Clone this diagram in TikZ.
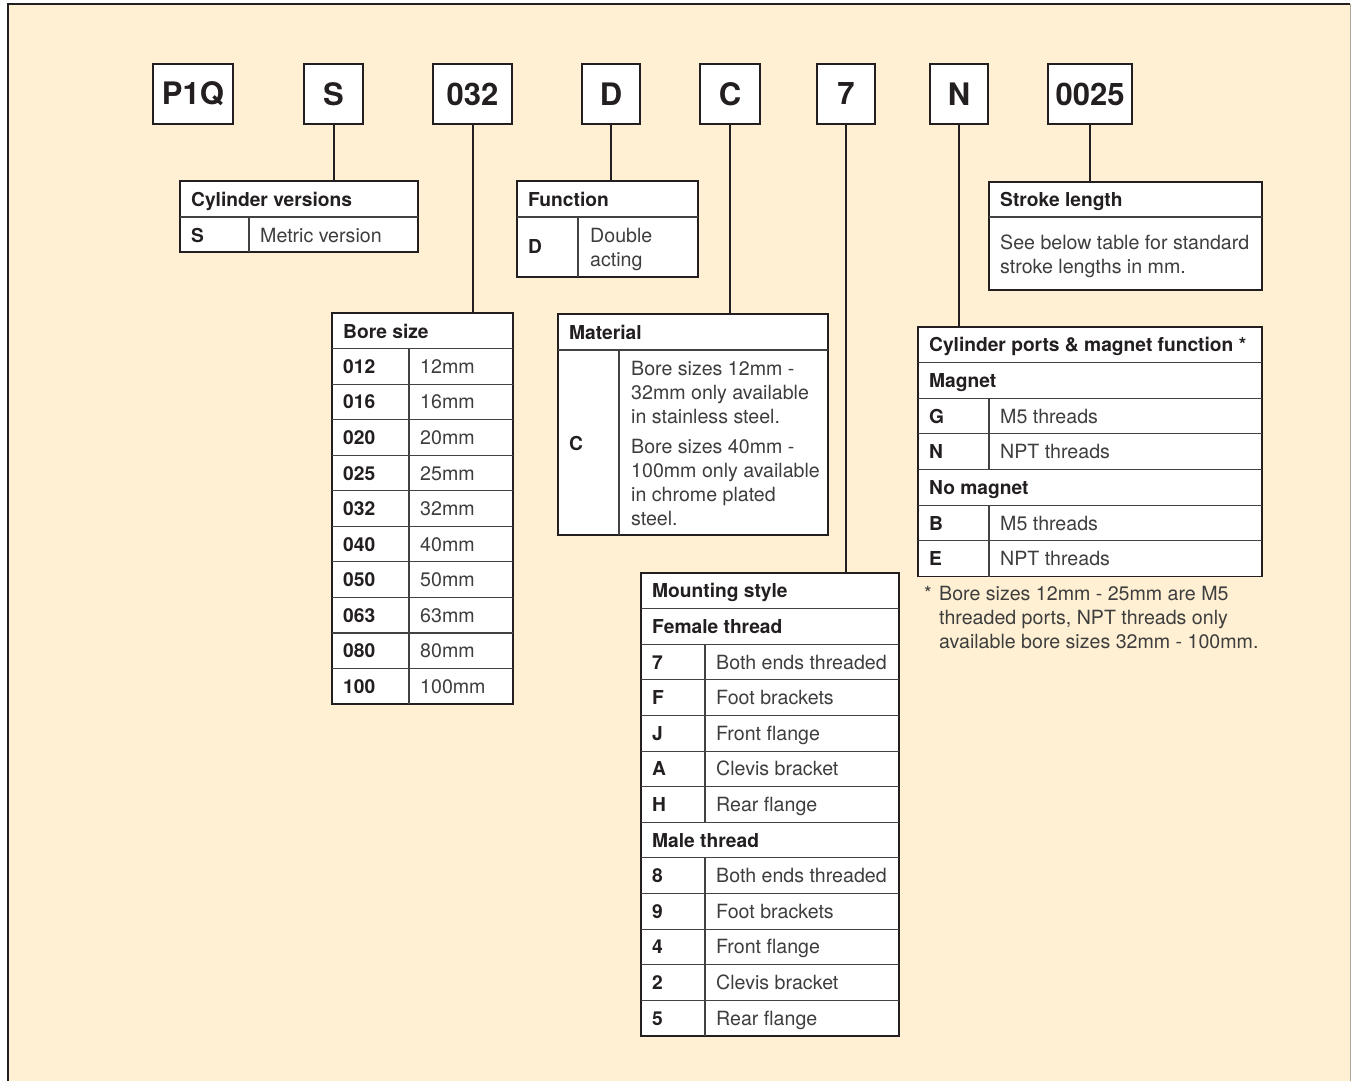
\documentclass[tikz,border=0pt]{standalone}
\usepackage{fontspec}
\setmainfont{TeX Gyre Heros}
\definecolor{cream}{RGB}{255,240,211}
\definecolor{ink}{RGB}{35,31,32}
\definecolor{txt}{RGB}{62,62,62}
\definecolor{edge}{RGB}{175,165,150}
\tikzset{
  codebox/.style={draw=ink, fill=white, line width=1.3pt, minimum height=60pt, inner sep=0pt,
    font=\fontsize{31}{31}\selectfont\bfseries, text=ink},
  tbl/.style={draw=ink, fill=white, line width=1.3pt, inner sep=0pt, outer sep=0pt, anchor=north west},
  gridline/.style={draw=ink!85, line width=1.1pt},
  conn/.style={draw=ink, line width=2pt},
  hd/.style={anchor=base west, inner sep=0pt, font=\fontsize{19.2}{22}\selectfont\bfseries, text=ink},
  bd/.style={anchor=base west, inner sep=0pt, font=\fontsize{19.6}{24}\selectfont, text=txt},
}
\begin{document}
\begin{tikzpicture}[x=1pt,y=-1pt]
\useasboundingbox (0,0) rectangle (1351,1081);
% panel
\fill[cream] (8,4) rectangle (1351,1081);
\draw[ink, line width=2pt] (8,1081) -- (8,4) -- (1350,4);
\draw[edge, line width=1pt] (1350,4) -- (1350,1081);

% code boxes
\node[codebox, minimum width=80pt] (p1q) at (193,94) {P1Q};
\node[codebox, minimum width=59pt] (cs) at (333.5,94) {S};
\node[codebox, minimum width=79pt] (cb) at (472.5,94) {032};
\node[codebox, minimum width=58pt] (cd) at (611,94) {D};
\node[codebox, minimum width=60pt] (cc) at (730,94) {C};
\node[codebox, minimum width=58pt] (c7) at (846,94) {7};
\node[codebox, minimum width=58pt] (cn) at (959,94) {N};
\node[codebox, minimum width=84pt] (cl) at (1090,94) {0025};

% ---------- Cylinder versions
\node[tbl, minimum width=238pt, minimum height=71pt] (tcv) at (180,181) {};
\draw[gridline] (180,217) -- (418,217);
\draw[gridline] (249,217) -- (249,252);
\node[hd] (tcvh) at (191,206) {Cylinder versions};
\node[hd] (tcv1) at (191,242) {S};
\node[bd] (tcv1t) at (260,242) {Metric version};

% ---------- Function
\node[tbl, minimum width=181pt, minimum height=96pt] (tfn) at (517,181) {};
\draw[gridline] (517,217) -- (698,217);
\draw[gridline] (578,217) -- (578,277);
\node[hd] (tfnh) at (528,206) {Function};
\node[hd] (tfn1) at (528,253) {D};
\node[bd] (tfn1a) at (590,242) {Double};
\node[bd] (tfn1b) at (590,266) {acting};

% ---------- Stroke length
\node[tbl, minimum width=273pt, minimum height=108pt] (tsl) at (989,182) {};
\draw[gridline] (989,217) -- (1262,217);
\node[hd] (tslh) at (1000,206.5) {Stroke length};
\node[bd] (tsl1) at (1000,249) {See below table for standard};
\node[bd] (tsl2) at (1000,273) {stroke lengths in mm.};

% ---------- Bore size
\node[tbl, minimum width=181pt, minimum height=391pt] (tbs) at (332,313) {};
\foreach \k in {1,...,10} \draw[gridline] (332,313+\k*35.55) -- (513,313+\k*35.55);
\draw[gridline] (409,348.55) -- (409,704);
\node[hd] (tbsh) at (343,338) {Bore size};
\foreach \c/\v [count=\k] in {012/12mm,016/16mm,020/20mm,025/25mm,032/32mm,040/40mm,050/50mm,063/63mm,080/80mm,100/100mm}{
  \node[hd] (tbsc\k) at (343,313+\k*35.55+17.8+7) {\c};
  \node[bd] (tbsv\k) at (420,313+\k*35.55+17.8+7) {\v};
}

% ---------- Material
\node[tbl, minimum width=270pt, minimum height=221pt] (tmt) at (558,314) {};
\draw[gridline] (558,350) -- (828,350);
\draw[gridline] (619,350) -- (619,535);
\node[hd] (tmth) at (569,339) {Material};
\node[hd] (tmt1) at (569,450) {C};
\node[bd] (tmta) at (631,375) {Bore sizes 12mm -};
\node[bd] (tmtb) at (631,399) {32mm only available};
\node[bd] (tmtc) at (631,423) {in stainless steel.};
\node[bd] (tmtd) at (631,453) {Bore sizes 40mm -};
\node[bd] (tmte) at (631,477) {100mm only available};
\node[bd] (tmtf) at (631,501) {in chrome plated};
\node[bd] (tmtg) at (631,525) {steel.};

% ---------- Cylinder ports & magnet function
\node[tbl, minimum width=344pt, minimum height=249.5pt] (tcp) at (918,327) {};
\foreach \k in {1,...,6} \draw[gridline] (918,327+\k*35.64) -- (1262,327+\k*35.64);
\draw[gridline] (989,327+2*35.64) -- (989,327+4*35.64);
\draw[gridline] (989,327+5*35.64) -- (989,576.5);
\node[hd] (tcph) at (929,327+17.8+7) {Cylinder ports \& magnet function *};
\node[hd] (tcpm) at (929,327+1*35.64+17.8+7) {Magnet};
\node[hd] (tcpg) at (929,327+2*35.64+17.8+7) {G};
\node[bd] (tcpgt) at (1000,327+2*35.64+17.8+7) {M5 threads};
\node[hd] (tcpn) at (929,327+3*35.64+17.8+7) {N};
\node[bd] (tcpnt) at (1000,327+3*35.64+17.8+7) {NPT threads};
\node[hd] (tcpo) at (929,327+4*35.64+17.8+7) {No magnet};
\node[hd] (tcpb) at (929,327+5*35.64+17.8+7) {B};
\node[bd] (tcpbt) at (1000,327+5*35.64+17.8+7) {M5 threads};
\node[hd] (tcpe) at (929,327+6*35.64+17.8+7) {E};
\node[bd] (tcpet) at (1000,327+6*35.64+17.8+7) {NPT threads};
% footnote
\node[bd] (fnast) at (924,600) {*};
\node[bd] (fn1) at (939,600) {Bore sizes 12mm - 25mm are M5};
\node[bd] (fn2) at (939,624) {threaded ports, NPT threads only};
\node[bd] (fn3) at (939,648) {available bore sizes 32mm - 100mm.};

% ---------- Mounting style
\node[tbl, minimum width=258pt, minimum height=463pt] (tms) at (641,573) {};
\foreach \k in {1,...,12} \draw[gridline] (641,573+\k*35.615) -- (899,573+\k*35.615);
\draw[gridline] (705,573+2*35.615) -- (705,573+7*35.615);
\draw[gridline] (705,573+8*35.615) -- (705,1036);
\node[hd] (tmsh) at (652,573+17.8+7) {Mounting style};
\node[hd] (tmsf) at (652,573+35.615+17.8+7) {Female thread};
\foreach \c/\v [count=\k] in {7/Both ends threaded,F/Foot brackets,J/Front flange,A/Clevis bracket,H/Rear flange}{
  \node[hd] (tmsfc\k) at (652,573+\k*35.615+35.615+17.8+7) {\c};
  \node[bd] (tmsfv\k) at (716,573+\k*35.615+35.615+17.8+7) {\v};
}
\node[hd] (tmsm) at (652,573+7*35.615+17.8+7) {Male thread};
\foreach \c/\v [count=\k] in {8/Both ends threaded,9/Foot brackets,4/Front flange,2/Clevis bracket,5/Rear flange}{
  \node[hd] (tmsmc\k) at (652,573+\k*35.615+7*35.615+17.8+7) {\c};
  \node[bd] (tmsmv\k) at (716,573+\k*35.615+7*35.615+17.8+7) {\v};
}

% ---------- connectors
\draw[conn] (cs.south) -- (cs.south |- tcv.north);
\draw[conn] (cb.south) -- (cb.south |- tbs.north);
\draw[conn] (cd.south) -- (cd.south |- tfn.north);
\draw[conn] (cc.south) -- (cc.south |- tmt.north);
\draw[conn] (c7.south) -- (c7.south |- tms.north);
\draw[conn] (cn.south) -- (cn.south |- tcp.north);
\draw[conn] (cl.south) -- (cl.south |- tsl.north);
\end{tikzpicture}
\end{document}
